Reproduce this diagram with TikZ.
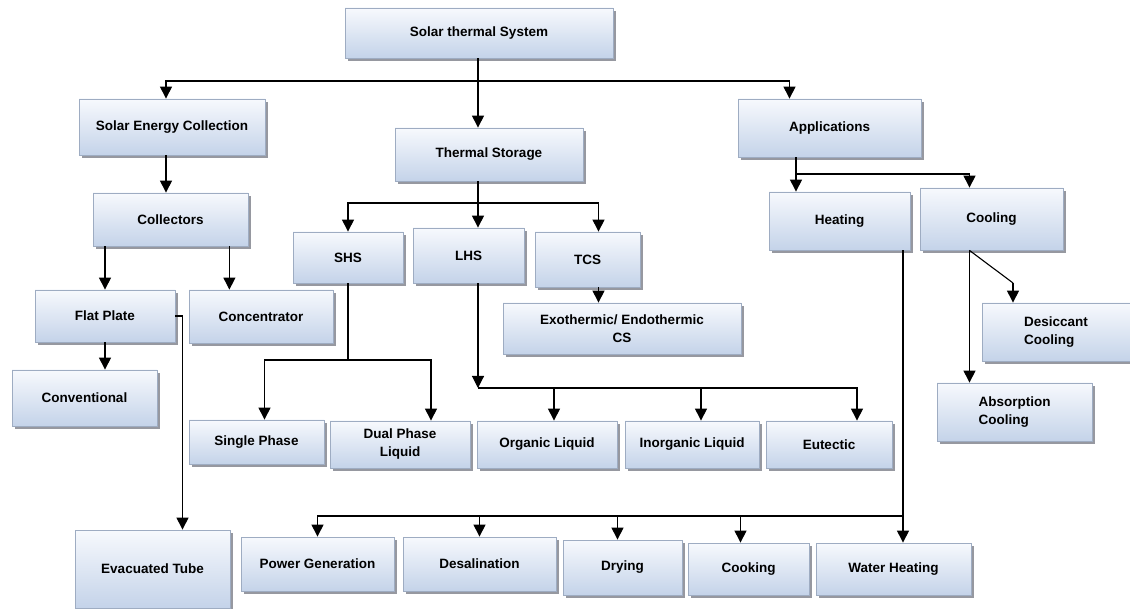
\documentclass[tikz,border=0pt]{standalone}
\usepackage{fontspec}
\setmainfont{Liberation Sans}
\usetikzlibrary{arrows.meta,shadows}
\definecolor{boxtop}{RGB}{247,249,253}
\definecolor{boxbot}{RGB}{196,211,233}
\definecolor{boxline}{RGB}{158,172,194}
\definecolor{boxshadow}{RGB}{150,152,160}
\begin{document}
\begin{tikzpicture}[x=1pt, y=-1pt,
	box/.style={rectangle, draw=boxline, line width=0.8pt, top color=boxtop, bottom color=boxbot,
		drop shadow={shadow xshift=2.5pt, shadow yshift=-3pt, fill=boxshadow, opacity=1},
		font=\fontsize{13.5}{18}\selectfont\bfseries, align=center, inner sep=2pt},
	arr/.style={line width=1.1pt, -{Triangle[length=12pt, width=12pt]}},
	ln/.style={line width=1.1pt}]
	\useasboundingbox (0,0) rectangle (1130,609);
	% top level
	\node[box, minimum width=268, minimum height=50] (sts) at (479,33) {Solar thermal System};
	\node[box, minimum width=186, minimum height=56] (sec) at (172,127) {Solar Energy Collection};
	\node[box, minimum width=188, minimum height=53] (ts) at (489,154.5) {Thermal Storage};
	\node[box, minimum width=183, minimum height=58] (app) at (829.5,128) {Applications};
	% collection
	\node[box, minimum width=155, minimum height=53] (col) at (170.5,219.5) {Collectors};
	\node[box, minimum width=140, minimum height=52] (fp) at (105,316) {Flat Plate};
	\node[box, minimum width=144, minimum height=53] (conc) at (261,316.5) {Concentrator};
	\node[box, minimum width=145, minimum height=56] (conv) at (84.5,398) {Conventional};
	\node[box, minimum width=155, minimum height=78] (evac) at (152.5,569) {Evacuated Tube};
	% storage
	\node[box, minimum width=110, minimum height=51] (shs) at (348,257.5) {SHS};
	\node[box, minimum width=111, minimum height=55] (lhs) at (468.5,255.5) {LHS};
	\node[box, minimum width=105, minimum height=55] (tcs) at (587.5,259.5) {TCS};
	\node[box, minimum width=238, minimum height=51] (exo) at (622,328.5) {Exothermic/ Endothermic\\CS};
	\node[box, minimum width=135, minimum height=44] (sp) at (256.5,442) {Single Phase};
	\node[box, minimum width=140, minimum height=47] (dpl) at (400,444.5) {Dual Phase\\Liquid};
	\node[box, minimum width=140, minimum height=47] (org) at (547,444.5) {Organic Liquid};
	\node[box, minimum width=134, minimum height=47] (inorg) at (692,444.5) {Inorganic Liquid};
	\node[box, minimum width=126, minimum height=47] (eut) at (829,444.5) {Eutectic};
	% applications
	\node[box, minimum width=141, minimum height=58] (heat) at (839.5,221) {Heating};
	\node[box, minimum width=143, minimum height=62] (cool) at (991.5,219) {Cooling};
	\node[box, minimum width=148, minimum height=58, align=left] (desi) at (1056,332) {Desiccant\\Cooling};
	\node[box, minimum width=155, minimum height=58, align=left] (abs) at (1014.5,412) {Absorption\\Cooling};
	\node[box, minimum width=153, minimum height=54] (pg) at (317.5,564) {Power Generation};
	\node[box, minimum width=153, minimum height=54] (desal) at (479.5,564) {Desalination};
	\node[box, minimum width=119, minimum height=55] (dry) at (622.5,567.5) {Drying};
	\node[box, minimum width=121, minimum height=52] (cook) at (748.5,569) {Cooking};
	\node[box, minimum width=155, minimum height=52] (wh) at (893.5,569) {Water Heating};
	% junctions
	\coordinate (topj) at (478,81);
	\coordinate (tsj) at (478,203);
	\coordinate (shsj) at (348,360);
	\coordinate (lhsj) at (478,388);
	\coordinate (appj) at (796,174);
	\coordinate (heatj) at (903,516);
	\coordinate (coolj) at (1013,283);
	% connectors
	\draw[arr] (sts.south -| topj) -- (topj |- ts.north);
	\draw[arr] (topj) -| ([xshift=-6]sec.north);
	\draw[arr] (topj) -| ([xshift=-40]app.north);
	\draw[arr] ([xshift=-6]sec.south) -- ([xshift=-6]sec.south |- col.north);
	\draw[arr] (fp.north |- col.south) -- (fp.north);
	\draw[arr] ([xshift=-19]col.south east) -- ([xshift=-19]col.south east |- conc.north);
	\draw[arr] (fp.south) -- (fp.south |- conv.north);
	\draw[arr] (fp.east) -| ([xshift=30]evac.north);
	\draw[ln] (ts.south -| tsj) -- (tsj);
	\draw[arr] (tsj) -- (tsj |- lhs.north);
	\draw[arr] (tsj) -| (shs.north);
	\draw[arr] (tsj) -| ([xshift=11]tcs.north);
	\draw[arr] ([xshift=11]tcs.south) -- ([xshift=11]tcs.south |- exo.north);
	\draw[ln] (shs.south) -- (shsj);
	\draw[arr] (shsj) -| ([xshift=8]sp.north);
	\draw[arr] (shsj) -| ([xshift=31]dpl.north);
	\draw[arr] (lhs.south -| lhsj) -- (lhsj);
	\draw[arr] (lhsj) -| ([xshift=28]eut.north);
	\draw[arr] ([xshift=7]org.north |- lhsj) -- ([xshift=7]org.north);
	\draw[arr] ([xshift=9]inorg.north |- lhsj) -- ([xshift=9]inorg.north);
	\draw[arr] (app.south -| appj) -- (appj |- heat.north);
	\draw[arr] (appj) -| ([xshift=-22]cool.north);
	\draw[arr] (heat.south -| heatj) -- (heatj |- wh.north);
	\draw[arr] (heatj) -| (pg.north);
	\draw[arr] (desal.north |- heatj) -- (desal.north);
	\draw[arr] ([xshift=-5]dry.north |- heatj) -- ([xshift=-5]dry.north);
	\draw[arr] ([xshift=-8]cook.north |- heatj) -- ([xshift=-8]cook.north);
	\draw[arr] ([xshift=-22]cool.south) -- ([xshift=-22]cool.south |- abs.north);
	\draw[ln] ([xshift=-22]cool.south) -- (coolj);
	\draw[arr] (coolj) -- (coolj |- desi.north);
\end{tikzpicture}
\end{document}
